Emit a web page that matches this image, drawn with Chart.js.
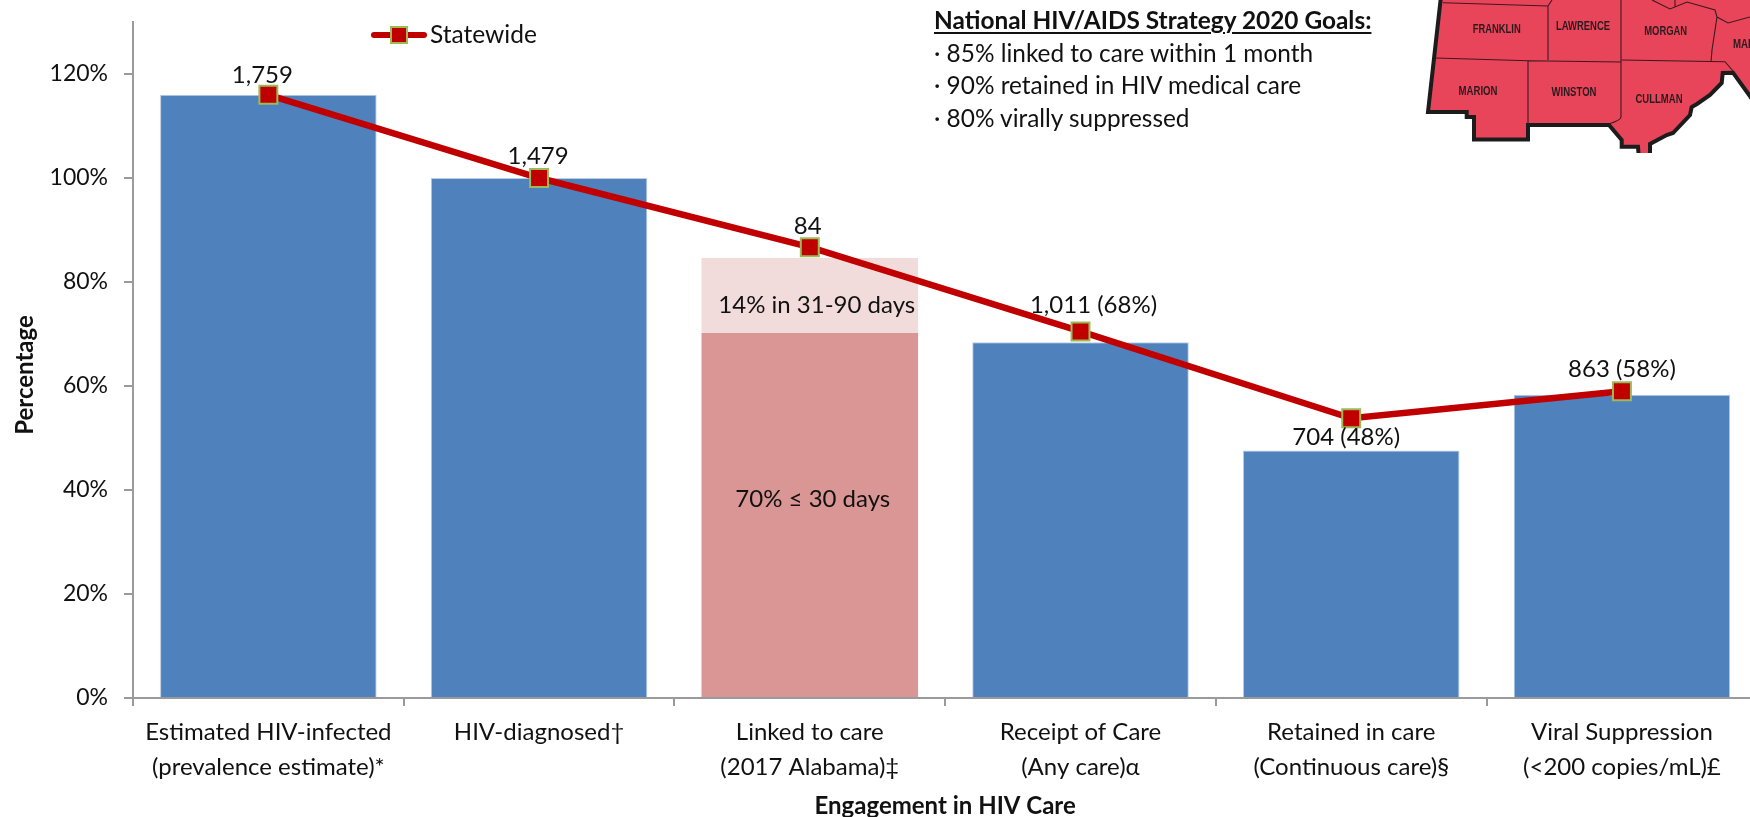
<!DOCTYPE html>
<html>
<head>
<meta charset="utf-8">
<script src="https://cdn.jsdelivr.net/npm/chart.js@4"></script>
<style>
html,body{margin:0;padding:0;background:#fff;width:1750px;height:817px;overflow:hidden}
#wrap{position:relative;width:1750px;height:817px;overflow:hidden}
canvas{display:block;position:absolute;left:0;top:0}
#goals{position:absolute;left:934px;top:4px;font:24.4px/32.7px Lato,sans-serif;color:#111;white-space:nowrap}
#goals b{display:block;text-decoration:underline;text-decoration-thickness:2px;text-underline-offset:3px}
#map{position:absolute;left:1400px;top:0}
#map text{font:bold 13px "Liberation Sans",Arial,sans-serif;fill:#2a1a1e;text-anchor:middle}
</style>
</head>
<body>
<div id="wrap">
<canvas id="c" width="1772" height="817"></canvas>
<svg id="map" width="350" height="153" viewBox="0 0 350 153">
  <polygon points="41.7,-10 28,112 66.7,112 66.7,117 74,117 74,139.5 128,139.5 128,125 209,125 221.7,140 221.7,146.7 238,146.7 239,160 250,160 250,144 266.7,135 273,133 290,115 291.7,107 297,104 310,95 321.7,83 322.7,73 333,72.7 352,99 360,-10" fill="#E8455A" stroke="#1c1c1c" stroke-width="4" stroke-linejoin="miter"/>
  <g fill="none" stroke="#3a1a20" stroke-width="1.1">
    <path d="M43,2.7 148,6 152,0M148,6V60M36,58 128,60.7 221,62M128,61V124M221,0V117Q221,120 209,124M221.7,60 325,61.7 333,71"/>
    <path d="M252,0 270,9 287,2 315,10 317,17 312,50 311,62M275,0V7M317,17 328,23 350,17"/>
  </g>
  <text x="96.7" y="33" textLength="48" lengthAdjust="spacingAndGlyphs">FRANKLIN</text>
  <text x="183" y="30" textLength="54" lengthAdjust="spacingAndGlyphs">LAWRENCE</text>
  <text x="265.7" y="35" textLength="43" lengthAdjust="spacingAndGlyphs">MORGAN</text>
  <text x="333" y="48" style="text-anchor:start" textLength="54" lengthAdjust="spacingAndGlyphs">MARSHALL</text>
  <text x="78" y="95" textLength="39" lengthAdjust="spacingAndGlyphs">MARION</text>
  <text x="174" y="96" textLength="45" lengthAdjust="spacingAndGlyphs">WINSTON</text>
  <text x="259" y="103" textLength="47" lengthAdjust="spacingAndGlyphs">CULLMAN</text>
</svg>
<div id="goals"><b>National HIV/AIDS Strategy 2020 Goals:</b>· 85% linked to care within 1 month<br>· 90% retained in HIV medical care<br>· 80% virally suppressed</div>
</div>
<script>
const categories = [
  ['Estimated HIV-infected','(prevalence estimate)*'],
  ['HIV-diagnosed†',''],
  ['Linked to care','(2017 Alabama)‡'],
  ['Receipt of Care','(Any care)α'],
  ['Retained in care','(Continuous care)§'],
  ['Viral Suppression','(<200 copies/mL)£']
];
const blueBars = [116, 100, null, 68.4, 47.6, 58.3];
const linked30 = [null, null, 70.2, null, null, null];
const linked90 = [null, null, 14.4, null, null, null];
const statewide = [116, 100, 86.7, 70.5, 53.8, 59];
const pointLabels = ['1,759','1,479','84','1,011 (68%)','704 (48%)','863 (58%)'];
const yTicks = [0,20,40,60,80,100,120];

const FONT = 'Lato, sans-serif';
const TEXT = '#111';
const AXIS = '#9a9a9a';

const annotate = {
  id:'annotate',
  afterDatasetsDraw(chart){
    const {ctx, scales:{x,y}} = chart;
    const m = chart.getDatasetMeta(3);
    const off = [[-6,-20],[-1,-22],[-2,-21],[13,-26],[-5,19],[0,-22]];
    ctx.save();
    ctx.font = '24px '+FONT; ctx.fillStyle = TEXT;
    ctx.textAlign='center'; ctx.textBaseline='middle';
    pointLabels.forEach((t,i)=>{
      const p = m.data[i];
      ctx.fillText(t, p.x+off[i][0], p.y+off[i][1]);
    });
    // labels inside the linked-to-care bar
    const cx = x.getPixelForValue(2);
    ctx.fillText('14% in 31-90 days', cx+7, y.getPixelForValue(75.5));
    ctx.fillText('70% ≤ 30 days', cx+3, y.getPixelForValue(38.2));
    // rotated y title
    ctx.save();
    ctx.translate(25,375); ctx.rotate(-Math.PI/2);
    ctx.font='bold 24px '+FONT;
    ctx.fillText('Percentage',0,0);
    ctx.restore();
    // legend
    const d = chart.data.datasets[3];
    ctx.strokeStyle=d.borderColor; ctx.lineWidth=6; ctx.lineCap='round';
    ctx.beginPath(); ctx.moveTo(374,35); ctx.lineTo(424,35); ctx.stroke();
    ctx.fillStyle=d.pointBackgroundColor; ctx.strokeStyle=d.pointBorderColor; ctx.lineWidth=2;
    ctx.fillRect(391,27,16,16); ctx.strokeRect(391,27,16,16);
    ctx.fillStyle=TEXT; ctx.textAlign='left';
    ctx.font='24.5px '+FONT;
    ctx.fillText(d.label,430,35);
    ctx.restore();
  }
};

new Chart(document.getElementById('c'),{
  data:{
    labels:categories,
    datasets:[
      {type:'bar',label:'HIV care continuum',data:blueBars,backgroundColor:'#4F81BD',borderColor:'#B9CDE5',borderWidth:1,stack:'b',order:2,categoryPercentage:0.8,barPercentage:1},
      {type:'bar',label:'≤ 30 days',data:linked30,backgroundColor:'#D99694',stack:'b',order:2,categoryPercentage:0.8,barPercentage:1},
      {type:'bar',label:'31-90 days',data:linked90,backgroundColor:'#F2DCDB',stack:'b',order:2,categoryPercentage:0.8,barPercentage:1},
      {type:'line',label:'Statewide',data:statewide,borderColor:'#C00000',borderWidth:6.5,tension:0,stack:'l',order:1,
        pointStyle:'rect',pointRadius:12.7,pointBackgroundColor:'#C00000',pointBorderColor:'#9BBB59',pointBorderWidth:2,borderCapStyle:'round'}
    ]
  },
  options:{
    responsive:false,animation:false,devicePixelRatio:1,
    layout:{padding:{top:22,left:0,right:2,bottom:0}},
    plugins:{legend:{display:false},title:{display:false},tooltip:{enabled:false}},
    scales:{
      x:{
        stacked:true,
        afterFit(s){s.height=119;s.paddingLeft=0;s.paddingRight=0;},
        grid:{display:true,drawOnChartArea:false,drawTicks:true,tickLength:8,color:AXIS,lineWidth:2},
        border:{color:AXIS,width:2},
        ticks:{color:TEXT,font:{family:FONT,size:24,lineHeight:1.46},padding:9,maxRotation:0,autoSkip:false},
        title:{display:true,text:'Engagement in HIV Care',color:TEXT,font:{family:FONT,size:24,weight:'bold',lineHeight:0.9},padding:{top:0,bottom:0}}
      },
      y:{
        stacked:true,min:0,max:130,
        afterFit(s){s.width=133;s.paddingTop=0;s.paddingBottom=0;},
        afterBuildTicks(s){s.ticks=yTicks.map(v=>({value:v}));},
        grid:{display:true,drawOnChartArea:false,drawTicks:true,tickLength:9,color:AXIS,lineWidth:2},
        border:{color:AXIS,width:2},
        ticks:{color:TEXT,font:{family:FONT,size:23},padding:16,callback:v=>v+'%'}
      }
    }
  },
  plugins:[annotate]
});
</script>
</body>
</html>
